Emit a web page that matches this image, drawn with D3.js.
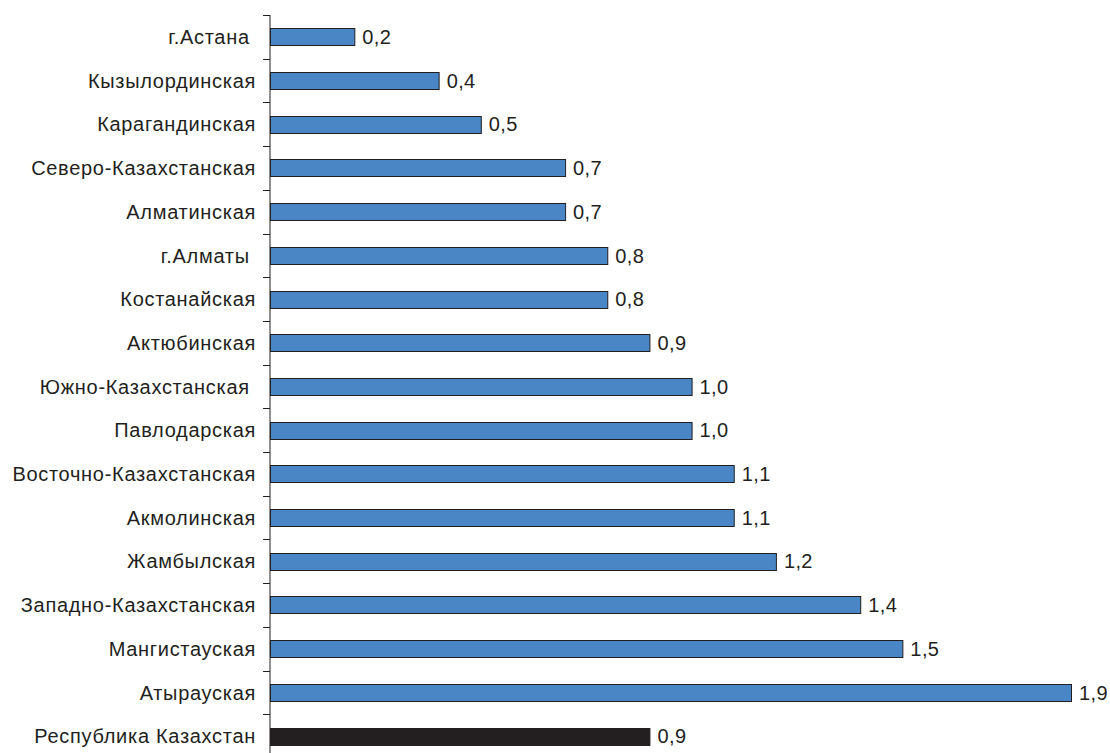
<!DOCTYPE html>
<html><head><meta charset="utf-8">
<script src="https://cdn.jsdelivr.net/npm/d3@7"></script>
<style>
html,body{margin:0;padding:0;background:#fff;}
svg text{font-family:"Liberation Sans",Arial,sans-serif;fill:#231f20;white-space:pre;}
</style></head>
<body>
<svg id="c" width="1110" height="753"></svg>
<script>
const categories = ["г.Астана ", "Кызылординская", "Карагандинская", "Северо-Казахстанская", "Алматинская", "г.Алматы ", "Костанайская", "Актюбинская", "Южно-Казахстанская ", "Павлодарская", "Восточно-Казахстанская", "Акмолинская", "Жамбылская", "Западно-Казахстанская", "Мангистауская", "Атырауская", "Республика Казахстан"];
const values = [0.2, 0.4, 0.5, 0.7, 0.7, 0.8, 0.8, 0.9, 1.0, 1.0, 1.1, 1.1, 1.2, 1.4, 1.5, 1.9, 0.9];
const valueLabels = ["0,2", "0,4", "0,5", "0,7", "0,7", "0,8", "0,8", "0,9", "1,0", "1,0", "1,1", "1,1", "1,2", "1,4", "1,5", "1,9", "0,9"];
const totalCategory = "Республика Казахстан";

(function () {
const svg = d3.select("#c");
const x0 = 270, y0 = 15, step = 43.7;
const x = d3.scaleLinear().domain([0, 1.9]).range([x0, x0 + 801]);
const pi = 0.61;
const y = d3.scaleBand().domain(categories).range([y0, y0 + step * categories.length])
  .paddingInner(pi).paddingOuter(pi / 2);

const g = svg.append("g");
g.append("line").attr("x1", x0).attr("x2", x0).attr("y1", y0).attr("y2", y0 + step * categories.length)
  .attr("stroke", "#231f20").attr("stroke-width", 1);
categories.forEach(c => {
  const yb = Math.round(y(c) - y.step() * pi / 2) + 0.5;
  g.append("line").attr("x1", x0 - 7).attr("x2", x0).attr("y1", yb).attr("y2", yb)
    .attr("stroke", "#231f20").attr("stroke-width", 1);
});

const data = categories.map((c, i) => ({c, v: values[i], l: valueLabels[i]}));

svg.append("g").selectAll("rect").data(data).join("rect")
  .attr("x", x(0) + 0.5)
  .attr("y", d => Math.round(y(d.c)) + 0.5)
  .attr("width", d => x(d.v) - x(0))
  .attr("height", Math.round(y.bandwidth()))
  .attr("fill", d => d.c === totalCategory ? "#231f20" : "#4a86c5")
  .attr("stroke", "#231f20").attr("stroke-width", 1);

svg.append("g").selectAll("text.v").data(data).join("text")
  .attr("class", "v")
  .attr("x", d => x(d.v) + 8)
  .attr("y", d => y(d.c) + y.bandwidth() / 2)
  .attr("dy", "0.36em")
  .attr("font-size", 20)
  .attr("letter-spacing", 0.4)
  .text(d => d.l);

svg.append("g").selectAll("text.c").data(data).join("text")
  .attr("class", "c")
  .attr("x", 256)
  .attr("y", d => y(d.c) + y.bandwidth() / 2)
  .attr("dy", "0.36em")
  .attr("text-anchor", "end")
  .attr("font-size", 20)
  .attr("letter-spacing", 0.7)
  .text(d => d.c);
})();
</script>
</body></html>
